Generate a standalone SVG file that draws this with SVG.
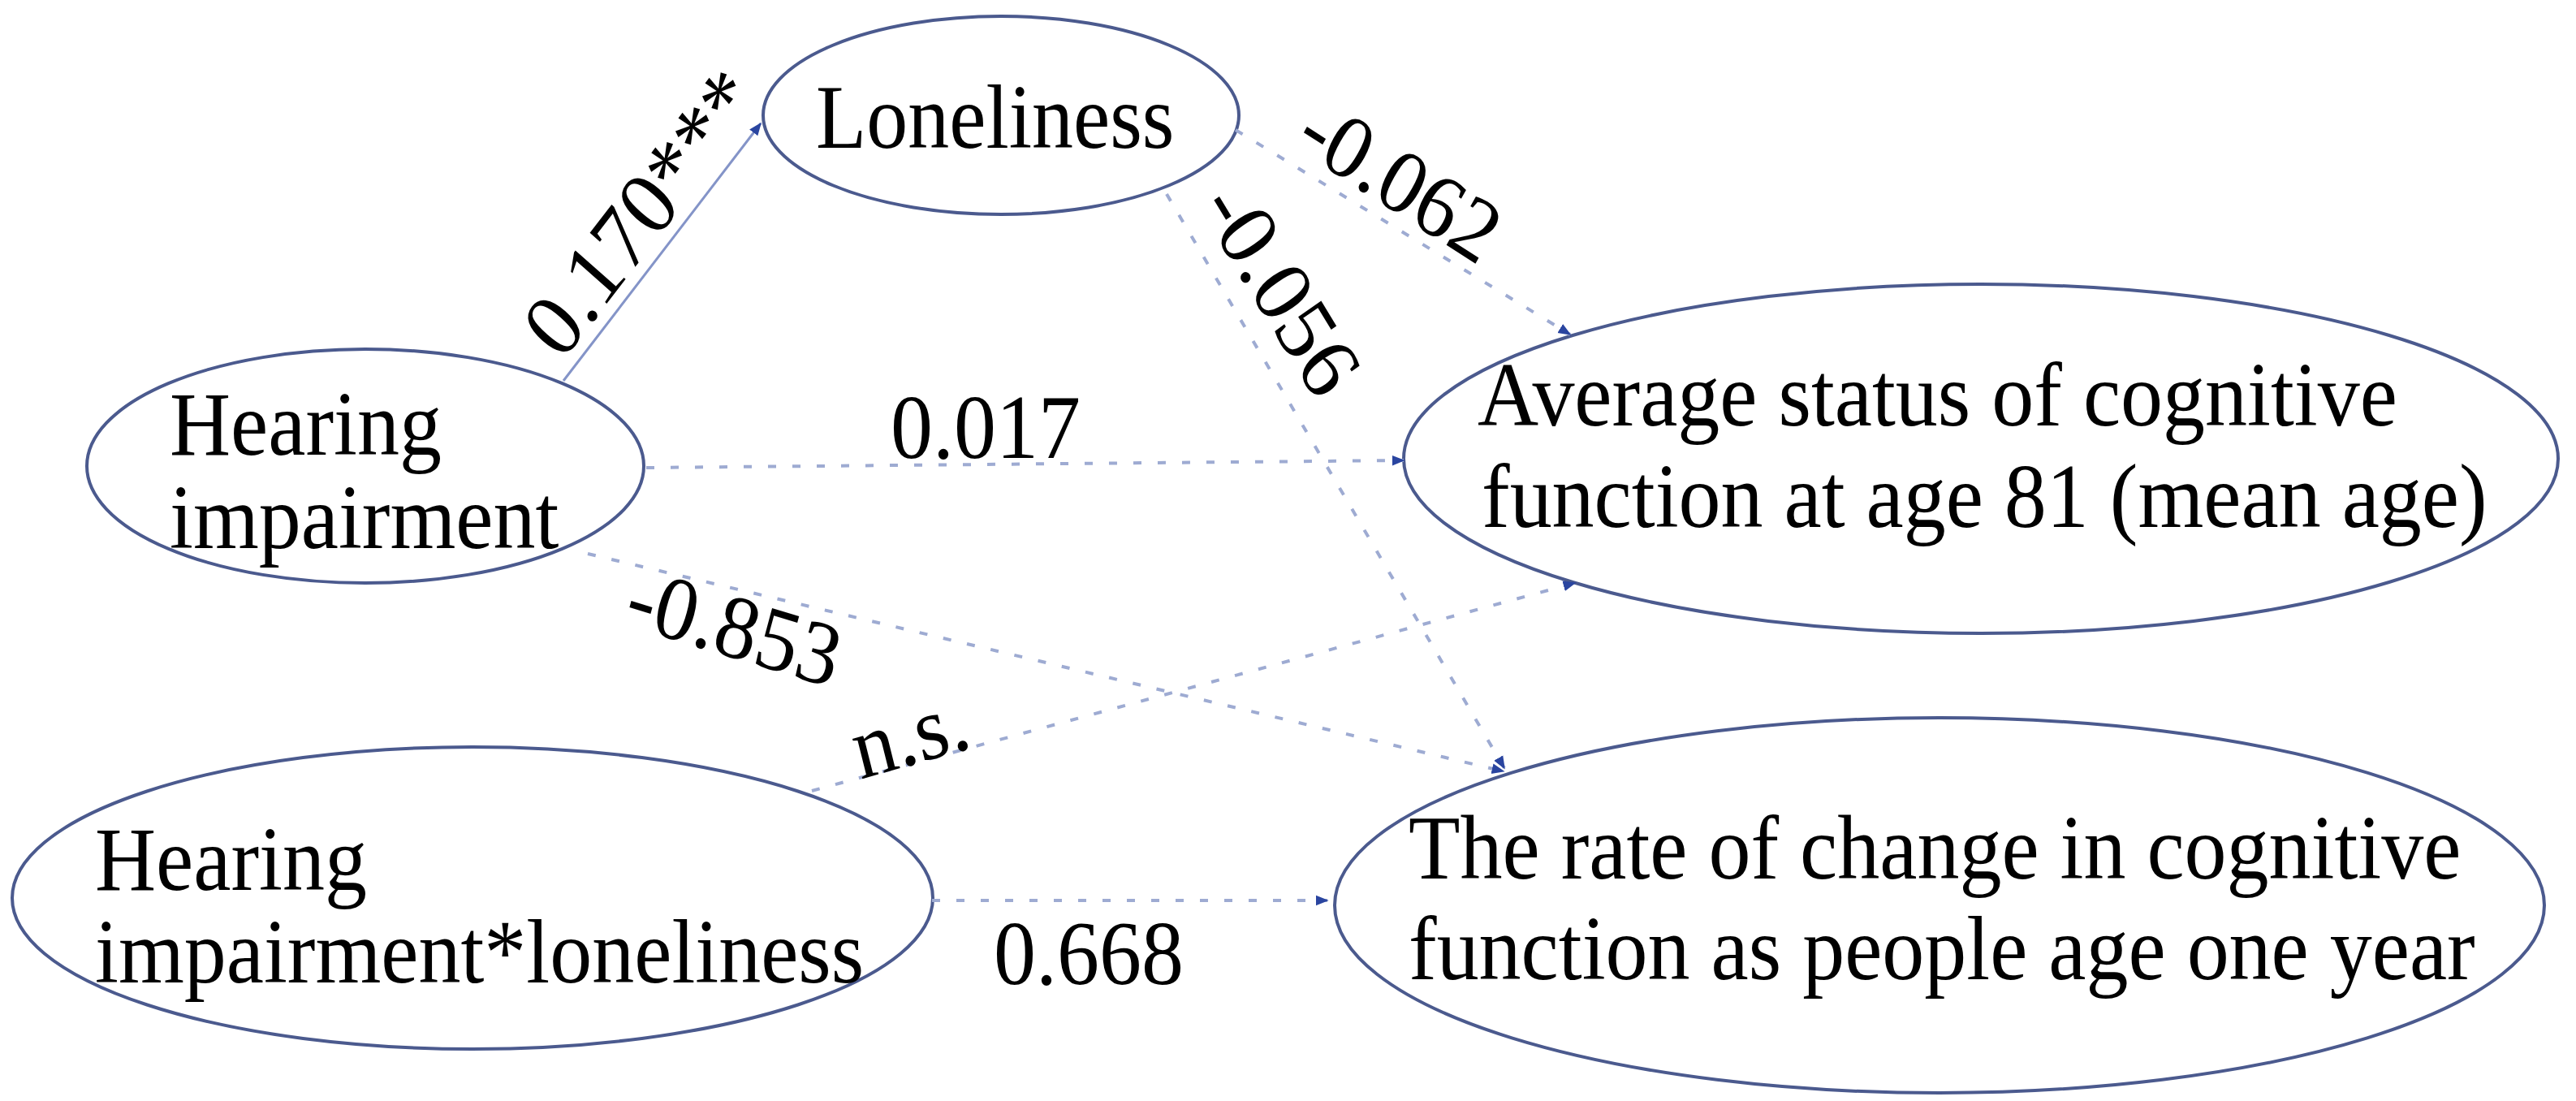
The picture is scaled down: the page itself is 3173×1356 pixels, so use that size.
<svg xmlns="http://www.w3.org/2000/svg" width="3173" height="1356" viewBox="0 0 3173 1356">
<style>
.node ellipse{fill:#ffffff;stroke:#4b5a8e;stroke-width:4}
text{font-family:"Liberation Serif","Times New Roman",serif;font-size:104px;fill:#000}
.dash{fill:none;stroke:#9eabd2;stroke-width:4;stroke-dasharray:10 20}
.solid{fill:none;stroke:#8494c8;stroke-width:3}
</style>
<defs>
<marker id="ahb" viewBox="0 0 10 10" refX="9" refY="5" markerWidth="16" markerHeight="16" orient="auto" markerUnits="userSpaceOnUse">
<path d="M0,1 L10,5 L0,9 z" fill="#2a45a0"/>
</marker>
</defs>
<rect width="3173" height="1356" fill="#ffffff"/>
<g id="nodes">
<g id="loneliness" class="node">
<ellipse cx="1233" cy="142" rx="293" ry="122"/>
<text transform="translate(1005,182) scale(0.98,1.07)">Loneliness</text>
</g>
<g id="hearing" class="node">
<ellipse cx="450" cy="574" rx="343" ry="144"/>
<text transform="translate(209,560) scale(1,1.07)">Hearing</text>
<text transform="translate(209,675) scale(1,1.07)">impairment</text>
</g>
<g id="interaction" class="node">
<ellipse cx="582" cy="1106" rx="567" ry="186"/>
<text transform="translate(117,1096) scale(1,1.07)">Hearing</text>
<text transform="translate(117,1210) scale(1,1.07)">impairment*loneliness</text>
</g>
<g id="average" class="node">
<ellipse cx="2440" cy="565" rx="711" ry="215"/>
<text transform="translate(1820,524) scale(1,1.07)">Average status of cognitive</text>
<text transform="translate(1825,649) scale(1,1.07)">function at age 81 (mean age)</text>
</g>
<g id="rate" class="node">
<ellipse cx="2389" cy="1115" rx="745" ry="231"/>
<text transform="translate(1735,1082) scale(1,1.07)">The rate of change in cognitive</text>
<text transform="translate(1735,1206) scale(1,1.07)">function as people age one year</text>
</g>
</g>
<g id="connectors">
<line class="solid" x1="694" y1="469" x2="937" y2="152" marker-end="url(#ahb)"/>
<line class="dash" x1="1522" y1="160" x2="1934" y2="412" marker-end="url(#ahb)"/>
<line class="dash" x1="1437" y1="239" x2="1853" y2="946" marker-end="url(#ahb)"/>
<line class="dash" x1="796" y1="576" x2="1729" y2="567" marker-end="url(#ahb)"/>
<line class="dash" x1="724" y1="682" x2="1852" y2="950" marker-end="url(#ahb)"/>
<line class="dash" x1="1000" y1="974" x2="1940" y2="718" marker-end="url(#ahb)"/>
<line class="dash" x1="1148" y1="1109" x2="1635" y2="1109" marker-end="url(#ahb)"/>
<text transform="translate(692,446) scale(1,1.07) rotate(-50.5)">0.170***</text>
<text transform="translate(1592,180) scale(1,1.07) rotate(31)">-0.062</text>
<text transform="translate(1476,255) scale(1,1.07) rotate(57)">-0.056</text>
<text transform="translate(1097,564) scale(1,1.07)">0.017</text>
<text transform="translate(766,768) scale(1,1.07) rotate(16)">-0.853</text>
<text transform="translate(1060,960) scale(1,1.07) rotate(-15)">n.s.</text>
<text transform="translate(1224,1212) scale(1,1.07)">0.668</text>
</g>
</svg>
